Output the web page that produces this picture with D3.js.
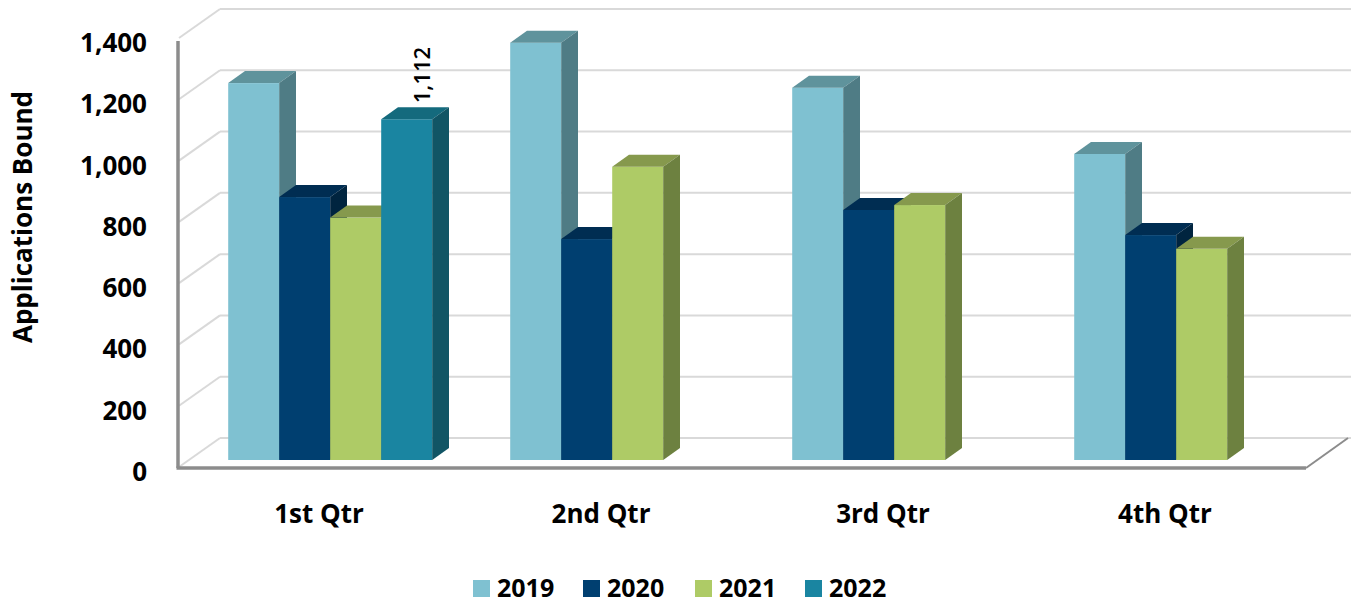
<!DOCTYPE html>
<html>
<head>
<meta charset="utf-8">
<script src="https://cdn.jsdelivr.net/npm/d3@7"></script>
<style>
html,body{margin:0;padding:0;background:#fff;}
svg{display:block;font-family:"Open Sans",sans-serif;}
</style>
</head>
<body>
<svg id="chart" width="1351" height="605"></svg>
<script>
const categories = ["1st Qtr", "2nd Qtr", "3rd Qtr", "4th Qtr"];
const seriesNames = ["2019", "2020", "2021", "2022"];
const values2019 = [1230, 1362, 1215, 999];
const values2020 = [858, 721, 816, 734];
const values2021 = [791, 957, 832, 689];
const values2022 = [1112, null, null, null];
const yTicks = [0, 200, 400, 600, 800, 1000, 1200, 1400];
const dataLabels = [{series: "2022", category: "1st Qtr", text: "1,112"}];

const frontColors = ["#7fc1d1", "#003f70", "#aecb66", "#1a85a1"];
const topColors   = ["#5f939c", "#002d52", "#86994d", "#146a7d"];
const sideColors  = ["#4f7c85", "#00243f", "#6d8140", "#115565"];

const seriesValues = [values2019, values2020, values2021, values2022];

const svg = d3.select("#chart");

// geometry
const DX = 42, DY = 30;
const dFront = 8 / 30, dBack = 20 / 30;
const frontLeft = 178, frontRight = 1306;
const y = d3.scaleLinear().domain([0, 1400]).range([468, 468 - 429]);
const x0 = d3.scaleBand().domain(categories).range([frontLeft, frontRight]);
const bw = x0.bandwidth();
const groupW = bw * 0.7234;
const x1 = d3.scaleBand().domain(seriesNames).range([(bw - groupW) / 2, (bw + groupW) / 2]);

const grid = svg.append("g");
yTicks.forEach(t => {
  const yf = y(t);
  grid.append("line")
    .attr("x1", frontLeft + DX).attr("x2", 1351)
    .attr("y1", yf - DY).attr("y2", yf - DY)
    .attr("stroke", "#d9d9d9").attr("stroke-width", 2);
  grid.append("line")
    .attr("x1", frontLeft + 1).attr("y1", yf - 1)
    .attr("x2", frontLeft + DX).attr("y2", yf - DY)
    .attr("stroke", "#d9d9d9").attr("stroke-width", 2);
});

svg.append("line")
  .attr("x1", frontRight).attr("y1", y(0))
  .attr("x2", frontRight + DX).attr("y2", y(0) - DY)
  .attr("stroke", "#8c8c8c").attr("stroke-width", 2);
svg.append("line")
  .attr("x1", frontLeft - 1.5).attr("y1", y(0))
  .attr("x2", frontRight).attr("y2", y(0))
  .attr("stroke", "#8c8c8c").attr("stroke-width", 3.5);
svg.append("line")
  .attr("x1", frontLeft).attr("y1", y(0))
  .attr("x2", frontLeft).attr("y2", y(1400) + 2)
  .attr("stroke", "#8c8c8c").attr("stroke-width", 3.5);

const ox = DX * dFront, oy = -DY * dFront;
const bdx = DX * (dBack - dFront), bdy = -DY * (dBack - dFront);
const bars = svg.append("g");
categories.forEach((cat, ci) => {
  seriesNames.forEach((s, si) => {
    const v = seriesValues[si][ci];
    if (v == null) return;
    const xl = x0(cat) + x1(s) + ox;
    const xr = xl + x1.bandwidth();
    const yt = y(v) + oy;
    const yb = y(0) + oy;
    const g = bars.append("g");
    g.append("rect").attr("x", xl).attr("y", yt).attr("width", xr - xl).attr("height", yb - yt)
      .attr("fill", frontColors[si]);
    g.append("polygon")
      .attr("points", [[xl, yt], [xr, yt], [xr + bdx, yt + bdy], [xl + bdx, yt + bdy]].map(p => p.join(",")).join(" "))
      .attr("fill", topColors[si]);
    g.append("polygon")
      .attr("points", [[xr, yt], [xr + bdx, yt + bdy], [xr + bdx, yb + bdy], [xr, yb]].map(p => p.join(",")).join(" "))
      .attr("fill", sideColors[si]);
  });
});

dataLabels.forEach(dl => {
  const si = seriesNames.indexOf(dl.series), ci = categories.indexOf(dl.category);
  const v = seriesValues[si][ci];
  const cx = x0(dl.category) + x1(dl.series) + x1.bandwidth() / 2 + ox + bdx;
  const yt = y(v) + oy + bdy - 4;
  svg.append("text")
    .attr("transform", `translate(${cx + 7},${yt}) rotate(-90)`)
    .attr("text-anchor", "start")
    .attr("font-size", 22).attr("font-weight", 600).attr("fill", "#000")
    .text(dl.text);
});

const fmt = d3.format(",");
svg.append("g").selectAll("text").data(yTicks).join("text")
  .attr("x", 147).attr("y", d => y(d) + 3)
  .attr("text-anchor", "end").attr("dominant-baseline", "central")
  .attr("font-size", 26).attr("font-weight", 700).attr("fill", "#000")
  .text(d => fmt(d));

svg.append("text")
  .attr("transform", "translate(22,217) rotate(-90)")
  .attr("text-anchor", "middle").attr("dominant-baseline", "central")
  .attr("font-size", 26).attr("font-weight", 700).attr("fill", "#000")
  .text("Applications Bound");

svg.append("g").selectAll("text").data(categories).join("text")
  .attr("x", d => x0(d) + bw / 2).attr("y", 513)
  .attr("text-anchor", "middle").attr("dominant-baseline", "central")
  .attr("font-size", 26).attr("font-weight", 700).attr("fill", "#000")
  .text(d => d);

const legendX = [473, 583, 695, 805];
const lg = svg.append("g");
seriesNames.forEach((s, i) => {
  lg.append("rect").attr("x", legendX[i]).attr("y", 580).attr("width", 17).attr("height", 17)
    .attr("fill", frontColors[i]);
  lg.append("text").attr("x", legendX[i] + 24).attr("y", 597)
    .attr("font-size", 25).attr("font-weight", 700).attr("fill", "#000")
    .text(s);
});
</script>
</body>
</html>
